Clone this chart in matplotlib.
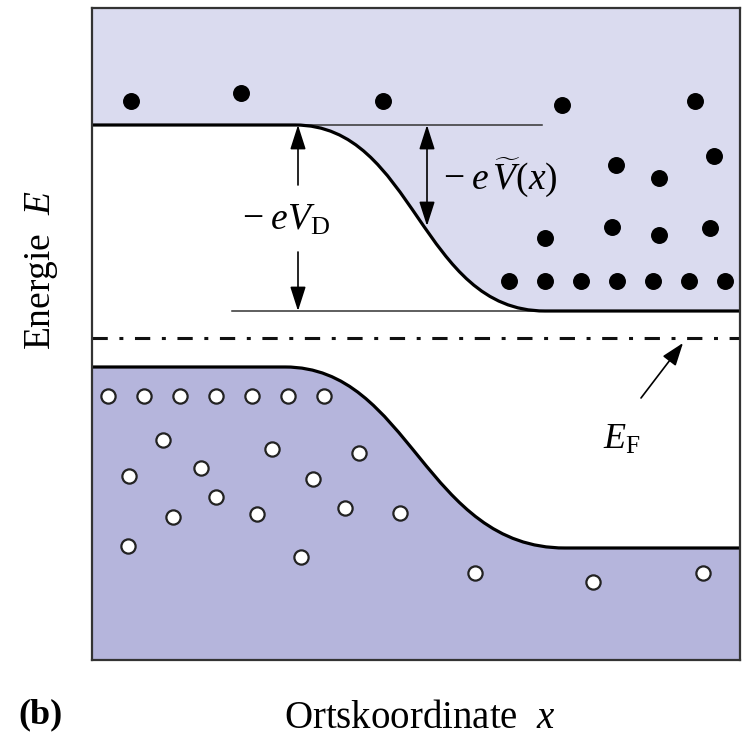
import numpy as np
import matplotlib.pyplot as plt
from matplotlib.path import Path
from matplotlib.patches import PathPatch

plt.rcParams['font.family'] = ['Liberation Serif', 'DejaVu Serif']
plt.rcParams['mathtext.fontset'] = 'custom'
plt.rcParams['mathtext.rm'] = 'Liberation Serif'
plt.rcParams['mathtext.it'] = 'Liberation Serif:italic'
plt.rcParams['mathtext.bf'] = 'Liberation Serif:bold'

# Bandkanten (Bezier-Stuetzpunkte: Start, Kontrolle, Kontrolle, Ende)
cb_x = [295, 415, 420, 545]
cb_y = [125, 125, 311, 311]
vb_x = [285, 410, 425, 565]
vb_y = [367, 367, 548, 548]
e_fermi = 338

# Elektronen im Leitungsband
el_x = [131, 241, 383, 562, 695, 616, 714, 659, 545, 612, 659, 710,
        509, 545, 581, 617, 653, 689, 725]
el_y = [101, 93, 101, 105, 101, 165, 156, 178, 238, 227, 235, 228,
        281, 281, 281, 281, 281, 281, 281]
# Loecher im Valenzband
ho_x = [108, 144, 180, 216, 252, 288, 324, 163, 272, 359, 129, 201, 313,
        216, 345, 173, 257, 400, 128, 301, 475, 593, 703]
ho_y = [396, 396, 396, 396, 396, 396, 396, 440, 449, 453, 476, 468, 479,
        497, 508, 517, 514, 513, 546, 557, 573, 582, 573]

x0, x1, y_top, y_bot = 92, 740, 8, 660

fig = plt.figure(figsize=(7.48, 7.37), dpi=100)
ax = fig.add_axes([x0 / 748, 1 - y_bot / 737, (x1 - x0) / 748, (y_bot - y_top) / 737])
ax.set_xlim(x0, x1)
ax.set_ylim(y_bot, y_top)
ax.set_xticks([])
ax.set_yticks([])
for s in ax.spines.values():
    s.set_linewidth(1.6)
    s.set_color('#333333')
    s.set_zorder(10)

C4 = [Path.CURVE4] * 3

def band_path(bx, by):
    verts = [(x0, by[0])] + list(zip(bx, by)) + [(x1, by[-1])]
    codes = [Path.MOVETO, Path.LINETO] + C4 + [Path.LINETO]
    return verts, codes

# Leitungsband
v, c = band_path(cb_x, cb_y)
fill = PathPatch(Path(v + [(x1, y_top), (x0, y_top), (x0, cb_y[0])],
                      c + [Path.LINETO, Path.LINETO, Path.CLOSEPOLY]),
                 facecolor='#dadbef', edgecolor='none', zorder=1)
ax.add_patch(fill)
ax.add_patch(PathPatch(Path(v, c), facecolor='none', edgecolor='black', lw=2.3, zorder=4))

# Valenzband
v, c = band_path(vb_x, vb_y)
fill = PathPatch(Path(v + [(x1, y_bot), (x0, y_bot), (x0, vb_y[0])],
                      c + [Path.LINETO, Path.LINETO, Path.CLOSEPOLY]),
                 facecolor='#b5b5dc', edgecolor='none', zorder=1)
ax.add_patch(fill)
ax.add_patch(PathPatch(Path(v, c), facecolor='none', edgecolor='black', lw=2.3, zorder=4))

# Fermi-Niveau
ax.plot([x0, x1], [e_fermi, e_fermi], color='#111111', lw=2.2,
        linestyle=(0, (5, 3.8, 1.3, 3.8)), dash_capstyle='butt', zorder=3)

# Hilfslinien
ax.plot([x0, 542], [cb_y[0], cb_y[0]], color='#333333', lw=1.1, zorder=3)
ax.plot([232, x1], [cb_y[-1], cb_y[-1]], color='#333333', lw=1.1, zorder=3)

ax.scatter(el_x, el_y, s=125, color='black', zorder=5)
ax.scatter(ho_x, ho_y, s=105, facecolor='white', edgecolor='#222222', linewidths=1.6, zorder=5)

arr = dict(arrowstyle='-|>,head_length=0.75,head_width=0.24', color='black',
           lw=1.2, mutation_scale=20, shrinkA=0, shrinkB=0)
ax.annotate('', xy=(298, cb_y[0]), xytext=(298, 185), arrowprops=arr, zorder=6)
ax.annotate('', xy=(298, cb_y[-1]), xytext=(298, 252), arrowprops=arr, zorder=6)
arr2 = dict(arr, arrowstyle='<|-|>,head_length=0.75,head_width=0.24')
ax.annotate('', xy=(427, 226), xytext=(427, cb_y[0]), arrowprops=arr2, zorder=6)
ax.annotate('', xy=(683, 343), xytext=(641, 398),
            arrowprops=dict(arr, arrowstyle='-|>,head_length=0.7,head_width=0.25'), zorder=6)

ax.text(286, 220, r'$-\;eV_{\mathrm{D}}$', fontsize=27, ha='center', va='center', zorder=6)
ax.text(500, 177, r'$-\;e\,\widetilde{V}(x)$', fontsize=27, ha='center', va='center', zorder=6)
ax.text(622, 440, r'$E_{\mathrm{F}}$', fontsize=26, ha='center', va='center', zorder=6)

fig.text(420 / 748, 1 - 718 / 737, r'Ortskoordinate  $x$', fontsize=28, ha='center', va='center')
fig.text(42 / 748, 1 - 270 / 737, r'Energie  $E$', fontsize=27, ha='center', va='center', rotation=90)
fig.text(40 / 748, 1 - 715 / 737, r'(b)', fontsize=26, fontweight='bold', ha='center', va='center')

fig.savefig('out.png', dpi=100)
